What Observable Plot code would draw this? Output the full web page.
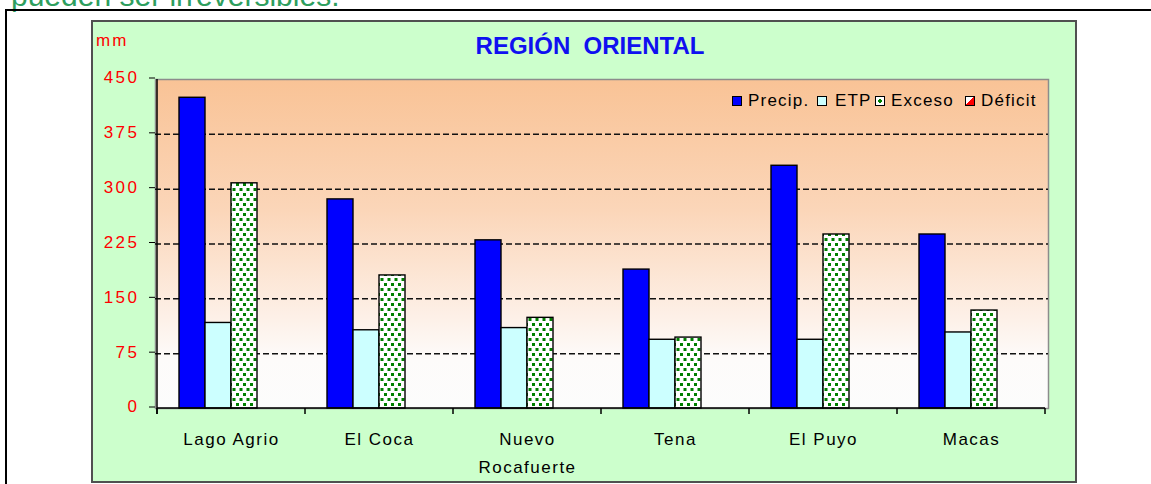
<!DOCTYPE html>
<html><head><meta charset="utf-8">
<script src="https://cdn.jsdelivr.net/npm/d3@7"></script>
<script src="https://cdn.jsdelivr.net/npm/@observablehq/plot@0.6"></script>
<style>
body{margin:0;background:#fff;font-family:"Liberation Sans",Arial,sans-serif;}
#page{position:relative;width:1151px;height:484px;overflow:hidden;}
#topnote{position:absolute;left:11px;top:-19px;font-size:30px;line-height:30px;color:#2e9e5e;white-space:nowrap;}
#outer{position:absolute;left:5px;top:9px;width:1200px;height:500px;border-top:2px solid #000;border-left:2px solid #000;}
#panel{position:absolute;left:91px;top:20px;width:986px;height:463px;box-sizing:border-box;border:2px solid #505050;background:#ccffcc;}
#chart{position:absolute;left:0;top:0;width:982px;height:459px;}
#chart svg{position:absolute;left:0;top:0;max-width:none !important;width:982px;height:459px;}
#title{position:absolute;left:590px;top:34px;transform:translateX(-50%);font-size:24px;line-height:24px;font-weight:bold;color:#1010f0;white-space:pre;}
#unit{position:absolute;left:96px;top:32px;font-size:17px;line-height:17px;color:#ff0000;letter-spacing:2px;}
.sw{position:absolute;top:96px;width:8px;height:8px;border:1px solid #000;box-sizing:content-box;}
.lt{position:absolute;top:92px;font-size:17px;line-height:17px;color:#000;letter-spacing:1.2px;white-space:nowrap;}
g[aria-label="y-axis tick label"] text{letter-spacing:2.5px;}
g[aria-label="text"] text{letter-spacing:1.5px;}
</style>
</head><body>
<div id="page">
  <div id="topnote">pueden ser irreversibles.</div>
  <div id="outer"></div>
  <div id="panel"><div id="chart"></div></div>
  <div id="title">REGIÓN  ORIENTAL</div>
  <div id="unit">mm</div>
  <div id="legend"></div>
</div>
<script>
const locations = ["Lago Agrio","El Coca","Nuevo Rocafuerte","Tena","El Puyo","Macas"];
const locationLabels = ["Lago Agrio","El Coca","Nuevo\nRocafuerte","Tena","El Puyo","Macas"];
const series = ["Precip.","ETP","Exceso","Déficit"];
const precip  = [425, 286, 230, 190, 332, 238];
const etp     = [117, 107, 110,  94,  94, 104];
const exceso  = [308, 182, 124,  97, 238, 134];
const deficit = [  0,   0,   0,   0,   0,   0];
const yTicks = [0, 75, 150, 225, 300, 375, 450];
const seriesFill = ["#0000ff", "#ccffff", "url(#dots)", "url(#diag)"];

const values = [precip, etp, exceso, deficit];
const data = locations.flatMap((loc, i) => series.map((s, k) => ({loc, series: s, value: values[k][i]})));

const common = {
  width: 982, height: 459,
  marginLeft: 62, marginRight: 27, marginTop: 57, marginBottom: 73,
  style: {background: "transparent", overflow: "visible", fontFamily: "'Liberation Sans', Arial, sans-serif"},
  y: {domain: [0, 450], axis: null}
};
const bandPad = {paddingInner: 0.282, paddingOuter: 0.141};

// base layer: plot area, grid, axes, category labels
const base = Plot.plot({
  ...common,
  x: {type: "band", domain: locations, ...bandPad, axis: null},
  marks: [
    Plot.frame({fill: "url(#bg)", stroke: "#8c8c8c", strokeWidth: 1.5}),
    Plot.ruleY(yTicks.filter(d => d > 0 && d < 450), {stroke: "#111", strokeWidth: 1.5, strokeDasharray: "6,3"}),
    Plot.axisY(yTicks, {anchor: "left", tickSize: 6, tickPadding: 10, stroke: "#000", fill: "#ff0000", fontSize: 17, dy: -1.5}),
    Plot.text(locations, {x: d => d, text: (d, i) => locationLabels[i], frameAnchor: "bottom", lineAnchor: "top", dy: 17, lineHeight: 1.65, fontSize: 17, fill: "#000"})
  ]
});

// bar layer: one facet per location, one band per series
const bars = Plot.plot({
  ...common,
  fx: {domain: locations, ...bandPad, axis: null, label: null},
  x: {domain: series, padding: 0, axis: null},
  color: {domain: series, range: seriesFill},
  marks: [
    Plot.barY(data, {fx: "loc", x: "series", y: "value", fill: "series", stroke: "#000", strokeWidth: 1.4})
  ]
});

d3.select(base).insert("defs", ":first-child").html(`
  <linearGradient id="bg" x1="0" y1="0" x2="0" y2="1">
    <stop offset="0" stop-color="#f9c396"/>
    <stop offset="0.4" stop-color="#fbd6b9"/>
    <stop offset="0.72" stop-color="#fdf0e7"/>
    <stop offset="0.85" stop-color="#fdfbfa"/>
    <stop offset="1" stop-color="#fcfcfc"/>
  </linearGradient>
  <pattern id="dots" patternUnits="userSpaceOnUse" width="7" height="10">
    <rect width="7" height="10" fill="#ffffff"/>
    <rect x="1" y="1" width="3" height="3" fill="#008000"/>
    <rect x="4.5" y="6" width="3" height="3" fill="#008000"/>
    <rect x="-2.5" y="6" width="3" height="3" fill="#008000"/>
  </pattern>
  <linearGradient id="diag" x1="0" y1="0" x2="1" y2="1">
    <stop offset="0.5" stop-color="#ffffff"/><stop offset="0.5" stop-color="#ff0000"/>
  </linearGradient>`);

// axis lines and category boundary ticks, placed from the base plot's scales
const xs = base.scale("x"), ys = base.scale("y");
const gap = (xs.step - xs.bandwidth) / 2;
const bounds = locations.map(d => xs.apply(d) - gap).concat([xs.apply(locations[locations.length - 1]) + xs.bandwidth + gap]);
const y0 = ys.apply(0), yTop = ys.apply(450);
const axisLayer = d3.select(bars).append("g").attr("stroke", "#000").attr("stroke-width", 1.5);
axisLayer.selectAll("line.b").data(bounds).join("line")
  .attr("x1", d => d).attr("x2", d => d).attr("y1", y0).attr("y2", y0 + 6);
axisLayer.append("line").attr("x1", bounds[0]).attr("x2", bounds[bounds.length - 1]).attr("y1", y0).attr("y2", y0);
axisLayer.append("line").attr("x1", bounds[0]).attr("x2", bounds[0]).attr("y1", yTop).attr("y2", y0 + 6);

const chart = document.getElementById("chart");
chart.appendChild(base);
chart.appendChild(bars);

// legend
const swLeft = [732, 817, 875, 965];
const txLeft = [748, 835, 891, 981];
const swStyle = [
  "background:#0000ff",
  "background:#ccffff",
  "background:radial-gradient(circle, #008000 0 1.6px, #ffffff 1.7px)",
  "background:linear-gradient(to bottom right, #ffffff 50%, #ff0000 50%)"
];
const lg = document.getElementById("legend");
series.forEach((s, k) => {
  const sw = document.createElement("div");
  sw.className = "sw"; sw.style.cssText = `left:${swLeft[k]}px;` + swStyle[k];
  const t = document.createElement("div");
  t.className = "lt"; t.style.left = txLeft[k] + "px"; t.textContent = s;
  lg.appendChild(sw); lg.appendChild(t);
});
</script>
</body></html>
